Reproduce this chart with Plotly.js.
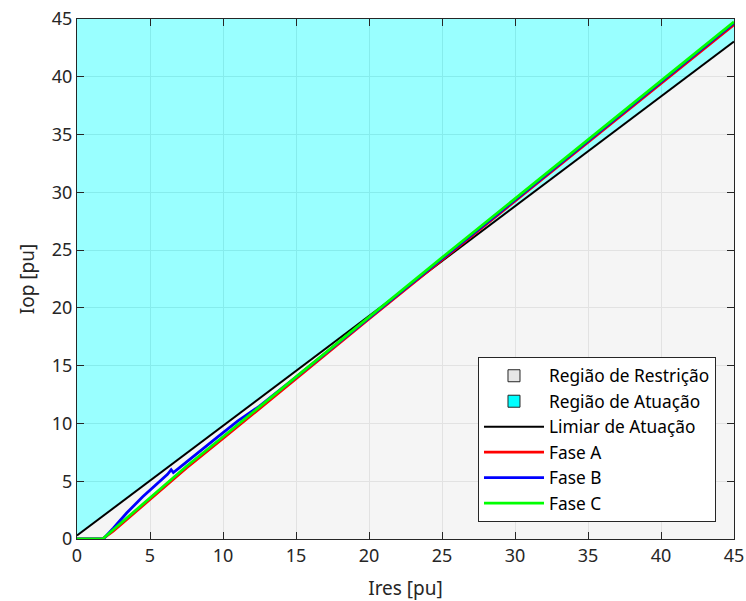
<!DOCTYPE html>
<html>
<head>
<meta charset="utf-8">
<script src="https://cdn.plot.ly/plotly-3.0.1.min.js"></script>
<style>html,body{margin:0;padding:0;background:#fff;}#chart{width:746px;height:601px;}</style>
</head>
<body>
<div id="chart"></div>
<script>
// ---- data ----
const axisMin = 0;
const axisMax = 45;
const tickVals = [0, 5, 10, 15, 20, 25, 30, 35, 40, 45];

// operating threshold (Limiar de Atuação)
const limiarIres = [0, 45];
const limiarIop = [0.3, 43.05];

// phase trajectories
const iresAC = [0, 1.75, 2.5, 3.5, 5, 6, 7.5, 10, 12.5, 15, 20, 25, 30, 35, 40, 45];
const iopA   = [0, 0, 0.7, 1.8, 3.42, 4.52, 6.15, 8.7, 11.3, 13.9, 19.05, 24.15, 29.25, 34.35, 39.4, 44.5];
const iopC   = [0, 0, 0.82, 1.92, 3.57, 4.67, 6.3, 8.85, 11.45, 14.05, 19.2, 24.35, 29.45, 34.55, 39.65, 44.75];

const iresB = [0, 1.8, 2.5, 3.4, 4.5, 5.5, 6.2, 6.45, 6.6, 7.3, 8.5, 9.6, 11, 12.5, 15, 20, 25, 30, 35, 40, 45];
const iopB  = [0, 0, 0.95, 2.25, 3.65, 4.8, 5.6, 6.0, 5.75, 6.45, 7.7, 8.8, 10.2, 11.5, 14.0, 19.15, 24.25, 29.35, 34.45, 39.55, 44.65];

const seriesNames = ['Região de Restrição', 'Região de Atuação', 'Limiar de Atuação', 'Fase A', 'Fase B', 'Fase C'];

// ---- build regions from threshold + axis range ----
const restX = [axisMin, axisMax].concat(limiarIres.slice().reverse());
const restY = [axisMin, axisMin].concat(limiarIop.slice().reverse());
const atuX = limiarIres.concat([axisMax, axisMin]);
const atuY = limiarIop.concat([axisMax, axisMax]);

const FONT = 'Noto Sans, Open Sans, DejaVu Sans, sans-serif';
const AX = '#262626';

const traces = [
  {x: restX, y: restY, type: 'scatter', mode: 'lines', fill: 'toself',
   fillcolor: 'rgba(230,230,230,0.4)', line: {width: 0}, showlegend: false, hoverinfo: 'skip'},
  {x: atuX, y: atuY, type: 'scatter', mode: 'lines', fill: 'toself',
   fillcolor: 'rgba(0,255,255,0.4)', line: {width: 0}, showlegend: false, hoverinfo: 'skip'},
  {x: [null], y: [null], type: 'scatter', mode: 'markers', name: seriesNames[0],
   marker: {symbol: 'square', size: 12, color: 'rgb(230,230,230)', line: {color: AX, width: 1}}},
  {x: [null], y: [null], type: 'scatter', mode: 'markers', name: seriesNames[1],
   marker: {symbol: 'square', size: 12, color: 'rgb(0,255,255)', line: {color: AX, width: 1}}},
  {x: limiarIres, y: limiarIop, type: 'scatter', mode: 'lines', name: seriesNames[2],
   line: {color: '#000000', width: 2}},
  {x: iresAC, y: iopA, type: 'scatter', mode: 'lines', name: seriesNames[3],
   line: {color: '#ff0000', width: 2.8}},
  {x: iresB, y: iopB, type: 'scatter', mode: 'lines', name: seriesNames[4],
   line: {color: '#0000ff', width: 2.8}},
  {x: iresAC, y: iopC, type: 'scatter', mode: 'lines', name: seriesNames[5],
   line: {color: '#00ff00', width: 2.8}}
];

const axisCommon = {
  range: [axisMin, axisMax],
  tickvals: tickVals,
  ticktext: tickVals.map(String),
  ticks: 'inside',
  ticklen: 7,
  tickcolor: AX,
  tickwidth: 1,
  showline: true,
  linecolor: AX,
  linewidth: 1,
  mirror: 'ticks',
  showgrid: true,
  gridcolor: '#dfdfdf',
  gridwidth: 1,
  zeroline: false,
  automargin: false,
  tickfont: {family: FONT, size: 18, color: AX}
};

const layout = {
  width: 746, height: 601,
  margin: {l: 77, r: 12, t: 19, b: 62},
  paper_bgcolor: '#ffffff',
  plot_bgcolor: '#ffffff',
  font: {family: FONT, size: 18, color: AX},
  showlegend: true,
  xaxis: Object.assign({}, axisCommon, {title: {text: 'Ires [pu]', font: {family: FONT, size: 19, color: AX}, standoff: 16}}),
  yaxis: Object.assign({}, axisCommon, {title: {text: 'Iop [pu]', font: {family: FONT, size: 19, color: AX}, standoff: 12}}),
  legend: {
    x: 0.9726, y: 0.0327, xanchor: 'right', yanchor: 'bottom',
    bgcolor: '#ffffff', bordercolor: AX, borderwidth: 1,
    font: {family: FONT, size: 17.3, color: '#000000'},
    traceorder: 'normal', itemwidth: 60, tracegroupgap: 0
  }
};

Plotly.newPlot('chart', traces, layout, {staticPlot: true, displayModeBar: false});
</script>
</body>
</html>
